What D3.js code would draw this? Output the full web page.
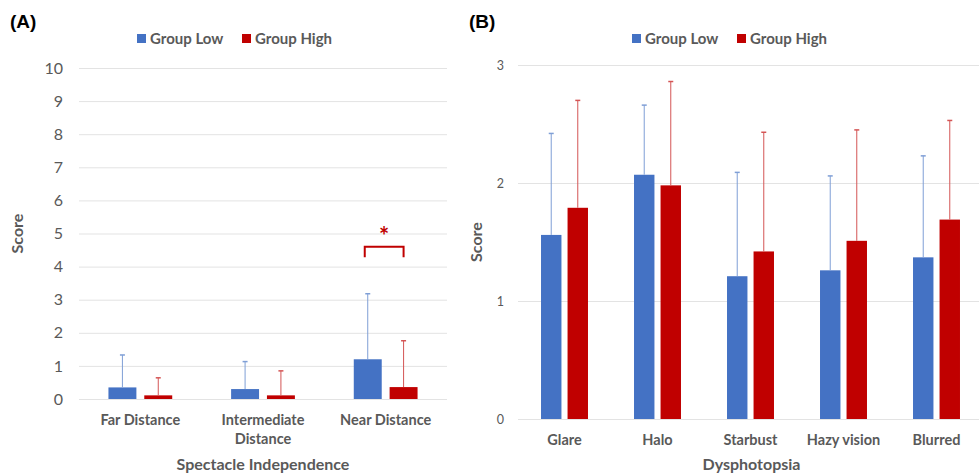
<!DOCTYPE html>
<html><head><meta charset="utf-8">
<script src="https://cdn.jsdelivr.net/npm/d3@7"></script>
<style>body{margin:0;background:#fff}svg{display:block}text{font-family:Lato,"Open Sans",sans-serif}</style>
</head><body><svg id="c" width="979" height="476"></svg>
<script>
// ---- Data ----
const series = ["Group Low", "Group High"];
const colors = ["#4472C4", "#C00000"];
const errColors = ["#7f9fd6", "#d45555"];

const catsA = ["Far Distance", "Intermediate Distance", "Near Distance"];
const lowA = [0.35, 0.30, 1.20];
const highA = [0.11, 0.11, 0.36];
const lowSdA = [0.98, 0.83, 1.98];
const highSdA = [0.53, 0.74, 1.40];
const ticksA = [0,1,2,3,4,5,6,7,8,9,10];

const catsB = ["Glare", "Halo", "Starbust", "Hazy vision", "Blurred"];
const lowB = [1.56, 2.07, 1.21, 1.26, 1.37];
const highB = [1.79, 1.98, 1.42, 1.51, 1.69];
const lowSdB = [0.86, 0.59, 0.88, 0.80, 0.86];
const highSdB = [0.91, 0.88, 1.01, 0.94, 0.84];
const ticksB = [0,1,2,3];

const svg = d3.select("#c");
svg.append("rect").attr("width",979).attr("height",476).attr("fill","#fff");
const grey = "#595959";

function panel(o){
  const g = svg.append("g");
  const y = d3.scaleLinear().domain(o.domain).range([o.y0, o.y1]);
  const x0 = d3.scaleBand().domain(o.cats).range([o.x0, o.x1]).paddingInner(o.pi).paddingOuter(o.pi/2);
  const x1 = d3.scaleBand().domain(series).range([0, x0.bandwidth()]).paddingInner(o.pi2);
  // gridlines
  g.append("g").selectAll("line").data(o.ticks).join("line")
    .attr("x1", o.x0).attr("x2", o.gridEnd)
    .attr("y1", d=>y(d)+0.5).attr("y2", d=>y(d)+0.5)
    .attr("stroke", "#e3e3e3").attr("stroke-width",1);
  // y axis labels via axis
  const ax = g.append("g").attr("transform",`translate(${o.tickX},0)`)
    .call(d3.axisLeft(y).tickValues(o.ticks).tickFormat(d3.format("d")).tickSize(0).tickPadding(0));
  ax.select(".domain").remove();
  ax.selectAll("text").attr("fill", grey).style("font-size", o.tickFs+"px").style("font-family","Lato,sans-serif");
  // bars
  const data = o.cats.map((c,i)=>({c, vals:[o.low[i], o.high[i]], sds:[o.lowSd[i], o.highSd[i]]}));
  const grp = g.selectAll(".grp").data(data).join("g").attr("transform", d=>`translate(${x0(d.c)},0)`);
  grp.selectAll("rect").data(d=>d.vals.map((v,k)=>({v,k}))).join("rect")
    .attr("x", d=>x1(series[d.k])).attr("width", x1.bandwidth())
    .attr("y", d=>y(d.v)).attr("height", d=>y(0)-y(d.v))
    .attr("fill", d=>colors[d.k]);
  // error bars (upward only)
  const eb = grp.selectAll(".eb").data(d=>d.vals.map((v,k)=>({v, sd:d.sds[k], k}))).join("g");
  eb.append("line")
    .attr("x1", d=>x1(series[d.k])+x1.bandwidth()/2).attr("x2", d=>x1(series[d.k])+x1.bandwidth()/2)
    .attr("y1", d=>y(d.v)).attr("y2", d=>y(d.v+d.sd))
    .attr("stroke", d=>errColors[d.k]).attr("stroke-width",1);
  eb.append("line")
    .attr("x1", d=>x1(series[d.k])+x1.bandwidth()/2-2.5).attr("x2", d=>x1(series[d.k])+x1.bandwidth()/2+2.5)
    .attr("y1", d=>y(d.v+d.sd)).attr("y2", d=>y(d.v+d.sd))
    .attr("stroke", d=>errColors[d.k]).attr("stroke-width",1.5);
  // category labels
  const xl = g.append("g").selectAll("text").data(o.cats).join("text")
    .attr("x", d=>x0(d)+x0.bandwidth()/2).attr("y", o.catY)
    .attr("text-anchor","middle").attr("fill", grey)
    .style("font-size", o.catFs+"px").style("font-weight","bold");
  xl.each(function(d){
    const lines = o.wrap && d.indexOf(" ")>0 && d.length>14 ? d.split(" ") : [d];
    d3.select(this).selectAll("tspan").data(lines).join("tspan")
      .attr("x", x0(d)+x0.bandwidth()/2).attr("dy",(l,i)=>i===0?0:19).text(l=>l);
  });
  // axis title
  g.append("text").attr("x", (o.x0+o.titleRef)/2).attr("y", o.titleY).attr("text-anchor","middle")
    .attr("fill", grey).style("font-size", o.titleFs+"px").style("font-weight","bold").text(o.title);
  g.append("text").attr("transform",`translate(${o.yTitleX},${(o.y0+o.y1)/2}) rotate(-90)`)
    .attr("text-anchor","middle").attr("fill", grey).style("font-size", o.titleFs+"px").style("font-weight","bold").text("Score");
  // panel letter
  g.append("text").attr("x", o.letterX).attr("y", 28).attr("fill","#000")
    .style("font-size","19px").style("font-weight","bold").style("font-family","Liberation Sans, Arial, sans-serif").text(o.letter);
  // legend
  const lg = g.append("g").attr("transform",`translate(${o.legX},0)`);
  let lx = 0;
  series.forEach((s,k)=>{
    lg.append("rect").attr("x", lx).attr("y", 34).attr("width",9).attr("height",9).attr("fill",colors[k]);
    lg.append("text").attr("x", lx+13).attr("y", 43.5).attr("fill", grey)
      .style("font-size","15px").style("font-weight","bold").text(s);
    lx += 105;
  });
  return {x0, x1, y};
}

const A = panel({cats:catsA, low:lowA, high:highA, lowSd:lowSdA, highSd:highSdA, ticks:ticksA,
  domain:[0,10], y0:399, y1:68, x0:79, x1:447, gridEnd:447, pi:0.48, pi2:0.22, tickX:63, tickFs:16,
  catY:425, catFs:14.5, wrap:true, title:"Spectacle Independence", titleY:470, titleFs:16, titleRef:447,
  yTitleX:23, letter:"(A)", letterX:10, legX:137});

const B = panel({cats:catsB, low:lowB, high:highB, lowSd:lowSdB, highSd:highSdB, ticks:ticksB,
  domain:[0,3], y0:419, y1:65, x0:518, x1:983, gridEnd:979, pi:0.495, pi2:0.23, tickX:504, tickFs:12.5,
  catY:445, catFs:14.5, wrap:false, title:"Dysphotopsia", titleY:470, titleFs:16, titleRef:985,
  yTitleX:482, letter:"(B)", letterX:469, legX:632});

// significance bracket on Near Distance (panel A)
const sigCat = "Near Distance";
const sigTop = 4.6, sigLeg = 4.28;
const bx1 = A.x0(sigCat) + A.x1("Group Low") + A.x1.bandwidth()/2 - 3;
const bx2 = A.x0(sigCat) + A.x1("Group High") + A.x1.bandwidth()/2;
svg.append("path")
  .attr("d", `M${bx1},${A.y(sigLeg)}V${A.y(sigTop)}H${bx2}V${A.y(sigLeg)}`)
  .attr("fill","none").attr("stroke","#C00000").attr("stroke-width",2);
svg.append("text").attr("x",(bx1+bx2)/2).attr("y",A.y(sigTop)-2).attr("text-anchor","middle")
  .attr("fill","#C00000").style("font-size","24px").style("font-weight","bold").text("*");
</script></body></html>
